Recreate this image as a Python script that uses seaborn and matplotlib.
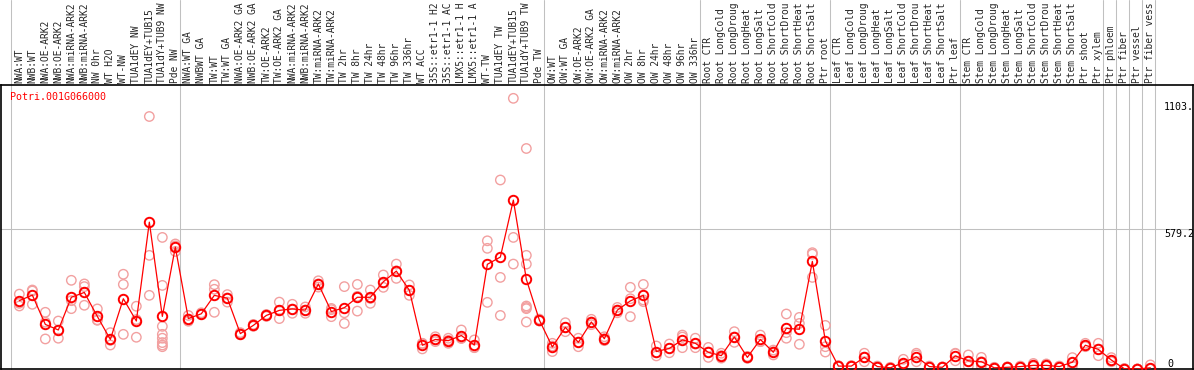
import numpy as np
import pandas as pd
import seaborn as sns
import matplotlib.pyplot as plt

gene_id = "Potri.001G066000"

# sample names as the chart shows them (cut to 14 characters)
samples = [
    "NWA:WT", "NWB:WT", "NWA:OE-ARK2", "NWB:OE-ARK2", "NWA:miRNA-ARK2", "NWB:miRNA-ARK2",
    "NW 0hr", "WT H2O", "WT-NW", "TUA1dEY NW", "TUA1dEY+TUB15", "TUA1dY+TUB9 NW", "Pde NW",
    "NWA:WT GA", "NWBWT GA", "TW:WT", "TW:WT GA", "NWA:OE-ARK2 GA", "NWB:OE-ARK2 GA",
    "TW:OE-ARK2", "TW:OE-ARK2 GA", "NWA:miRNA-ARK2", "NWB:miRNA-ARK2", "TW:miRNA-ARK2",
    "TW:miRNA-ARK2", "TW 2hr", "TW 8hr", "TW 24hr", "TW 48hr", "TW 96hr", "TW 336hr", "WT ACC",
    "35S::etr1-1 H2", "35S::etr1-1 AC", "LMX5::etr1-1 H", "LMX5::etr1-1 A", "WT-TW",
    "TUA1dEY TW", "TUA1dEY+TUB15", "TUA1dY+TUB9 TW", "Pde TW",
    "OW:WT", "OW:WT GA", "OW:OE-ARK2", "OW:OE-ARK2 GA", "OW:miRNA-ARK2", "OW:miRNA-ARK2",
    "OW 2hr", "OW 8hr", "OW 24hr", "OW 48hr", "OW 96hr", "OW 336hr",
    "Root CTR", "Root LongCold", "Root LongDroug", "Root LongHeat", "Root LongSalt",
    "Root ShortCold", "Root ShortDrou", "Root ShortHeat", "Root ShortSalt", "Ptr root",
    "Leaf CTR", "Leaf LongCold", "Leaf LongDroug", "Leaf LongHeat", "Leaf LongSalt",
    "Leaf ShortCold", "Leaf ShortDrou", "Leaf ShortHeat", "Leaf ShortSalt", "Ptr leaf",
    "Stem CTR", "Stem LongCold", "Stem LongDroug", "Stem LongHeat", "Stem LongSalt",
    "Stem ShortCold", "Stem ShortDrou", "Stem ShortHeat", "Stem ShortSalt", "Ptr shoot",
    "Ptr xylem", "Ptr phloem", "Ptr fiber", "Ptr vessel", "Ptr fiber vess",
]

mean_expr = [
    282, 305, 184, 161, 296, 316, 217, 122, 290, 198, 606, 217, 503,
    208, 228, 304, 292, 146, 180, 221, 242, 248, 243, 351, 237, 253, 296, 296,
    360, 404, 325, 98, 122, 117, 138, 99, 432, 462, 697, 370, 202,
    91, 172, 110, 194, 125, 243, 281, 304, 72, 85, 120, 106,
    69, 55, 132, 48, 122, 69, 168, 164, 444, 116,
    12, 12, 48, 10, 5, 26, 51, 10, 7, 54,
    34, 30, 5, 7, 10, 15, 15, 10, 28, 98, 81,
    37, 1, 0, 5,
]

rep_expr = [
    [309, 271, 260], [322, 326, 267], [234, 193, 124], [198, 160, 127], [366, 282, 249],
    [351, 340, 263], [248, 201, 203], [150, 99, 118], [391, 349, 143], [259, 131, 204],
    [1042, 469, 304], [543, 345, 176, 143, 127, 109, 99, 92], [516, 485, 508],
    [221, 197, 206], [232, 226, 226], [348, 329, 234], [307, 276, 293], [150, 142, 146],
    [184, 176, 180], [225, 217, 221], [276, 208, 242], [267, 230, 247], [230, 256, 243],
    [364, 338, 351], [250, 216, 245], [340, 232, 188], [349, 239, 300], [326, 271, 291],
    [388, 337, 355], [433, 374, 405], [347, 304, 324], [106, 83, 105], [133, 113, 120],
    [127, 106, 118], [161, 127, 126], [120, 89, 88], [529, 498, 275], [780, 378, 221],
    [1117, 543, 433], [910, 469, 433, 260, 254, 249, 194], [206, 198, 202],
    [106, 72, 95], [191, 154, 171], [127, 92, 111], [205, 183, 194], [133, 117, 125],
    [232, 254, 243], [337, 216, 290], [349, 278, 285], [95, 54, 67], [103, 67, 85],
    [140, 88, 132], [127, 88, 103],
    [89, 48, 70], [65, 45, 55], [154, 110, 132], [52, 44, 48], [140, 113, 113],
    [78, 58, 71], [227, 127, 150], [213, 188, 102], [480, 378, 474], [180, 92, 70],
    [14, 10, 12], [14, 10, 12], [65, 30, 49], [12, 8, 10], [7, 3, 5],
    [40, 18, 20], [65, 30, 58], [12, 8, 10], [9, 5, 7], [65, 34, 63],
    [58, 12, 32], [48, 12, 30], [7, 3, 5], [9, 5, 7], [12, 8, 10],
    [23, 10, 12], [21, 12, 12], [12, 8, 10], [47, 12, 25], [106, 92, 96], [106, 55, 82],
    [47, 30, 34], [2, 0, 1], [0, 0, 0], [17, 0, 0],
]

# first column of each tissue block (vertical separators)
group_starts = [0, 13, 41, 53, 63, 73, 84, 85, 86, 87, 88]
axis_labels = ["1103.2", "579.2", "0"]
axis_values = [1103.2, 579.2, 0]

df_mean = pd.DataFrame({"pos": np.arange(len(samples)), "expr": mean_expr})
df_rep = pd.DataFrame(
    [(i, v) for i, reps in enumerate(rep_expr) for v in reps], columns=["pos", "expr"]
)

sns.set_style("white")
plt.rcParams["font.family"] = ["DejaVu Sans Mono", "DejaVu Sans"]

fig = plt.figure(figsize=(11.94, 3.70), dpi=100)
ax = fig.add_axes([1 / 1194, 1 / 370, 1192 / 1194, 284 / 370])

ax.axhline(579.2, color="#c0c0c0", lw=0.75, zorder=0)
for g in group_starts:
    ax.axvline(g - 0.66, ymin=0, ymax=1 + 85 / 284, color="#c0c0c0", lw=0.75,
               clip_on=False, zorder=0)

sns.scatterplot(data=df_rep, x="pos", y="expr", ax=ax, marker="o", s=46,
                facecolors="none", edgecolor="#f2a0a0", linewidth=1.0, zorder=2)
sns.lineplot(data=df_mean, x="pos", y="expr", ax=ax, color="red", lw=0.9,
             marker="o", markersize=6.8, markerfacecolor="none",
             markeredgecolor="red", markeredgewidth=1.4, zorder=3)

ax.set_xlim(-1.41, 90.28)
ax.set_ylim(0, 1172)
ax.set_xlabel("")
ax.set_ylabel("")
ax.set_yticks([])
ax.set_xticks(df_mean["pos"])
ax.set_xticklabels(samples, rotation=90)
ax.tick_params(axis="x", length=0, pad=1.5, labelsize=6.9, top=True, labeltop=True,
               bottom=False, labelbottom=False)
for side in ["left", "right", "top", "bottom"]:
    ax.spines[side].set_color("black")
    ax.spines[side].set_linewidth(1.2)

ax.text(0.0075, 0.958, gene_id, transform=ax.transAxes, color="red", fontsize=7.2,
        va="center", ha="left")
for lab, val in zip(axis_labels, axis_values):
    ax.text(88.05 if val > 0 else 88.28, val, lab, fontsize=7.2, color="black",
            va="top" if val > 0 else "bottom", ha="left", clip_on=True)

fig.savefig("out.png", dpi=100)
